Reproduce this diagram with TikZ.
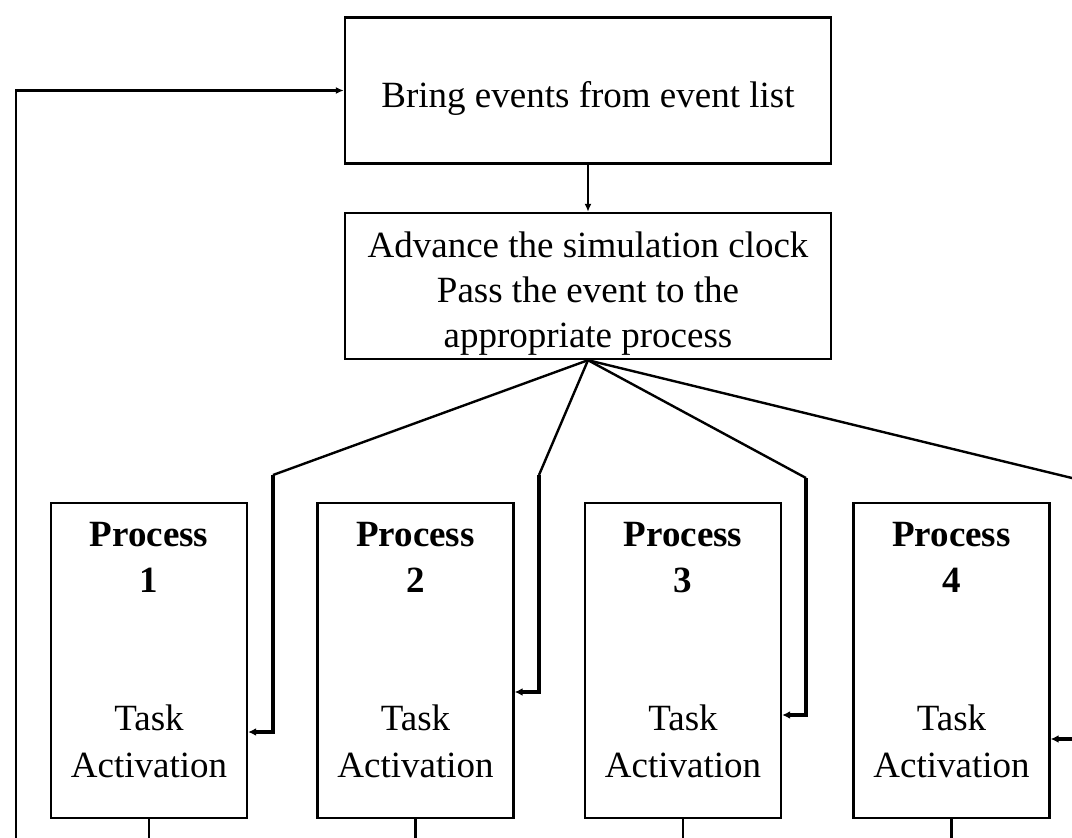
\documentclass[tikz,border=0pt]{standalone}
\usepackage{fontspec}
\setmainfont{Liberation Serif}
\usetikzlibrary{arrows.meta}
\begin{document}
\begin{tikzpicture}[x=1pt,y=-1pt,
  box/.style={draw,line width=2.4pt,rectangle,inner sep=0pt},
  stagebox/.style={box,minimum width=486pt,minimum height=146pt},
  procbox/.style={box,minimum width=196pt,minimum height=315pt},
  txt/.style={anchor=base,inner sep=0pt,font=\fontsize{37}{45}\selectfont},
  btxt/.style={txt,font=\fontsize{37}{45}\selectfont\bfseries},
  link/.style={line width=2.4pt},
  feed/.style={line width=3.4pt,-{Latex[length=8pt,width=8pt]}},
  arr/.style={line width=2.4pt,-{Latex[length=8pt,width=7pt]}}]
\useasboundingbox (0,0) rectangle (1072,838);
\clip (0,0) rectangle (1072,838);

% main loop stages
\node[stagebox] (bring) at (588,90.5) {};
\node[txt] (bringtxt) at (588,107) {Bring events from event list};
\node[stagebox] (clock) at (588,286) {};
\node[txt] (clock1) at (588,257) {Advance the simulation clock};
\node[txt] (clock2) at (588,302) {Pass the event to the};
\node[txt] (clock3) at (588,347) {appropriate process};

% process boxes
\foreach \i/\cx in {1/149,2/415.5,3/683,4/951.5}{
  \node[procbox] (p\i) at (\cx,660.5) {};
  \node[btxt] (p\i title) at (\cx,546) {Process};
  \node[btxt] (p\i num) at (\cx,592) {\i};
  \node[txt] (p\i task) at (\cx,730) {Task};
  \node[txt] (p\i act) at (\cx,777) {Activation};
  \coordinate (out\i) at (p\i.south |- 0,850);
  \draw[link] (p\i.south) -- (out\i);
}

% dispatch bends and entry points
\coordinate (k1) at (273,475);
\coordinate (k2) at (539,475);
\coordinate (k3) at (806,478);
\coordinate (k4) at (1090,482.4);
\coordinate (in1) at (p1.east |- 0,732);
\coordinate (in2) at (p2.east |- 0,692);
\coordinate (in3) at (p3.east |- 0,715);
\coordinate (in4) at (p4.east |- 0,739);

\draw[arr] (bring.south) -- (clock.north);
\foreach \i in {1,2,3,4}{
  \draw[link] (clock.south) -- (k\i);
  \draw[feed] (k\i) |- (in\i);
}

% return path to the event list
\coordinate (loopbot) at (16,850);
\draw[arr] (loopbot) |- (bring.west);
\end{tikzpicture}
\end{document}
